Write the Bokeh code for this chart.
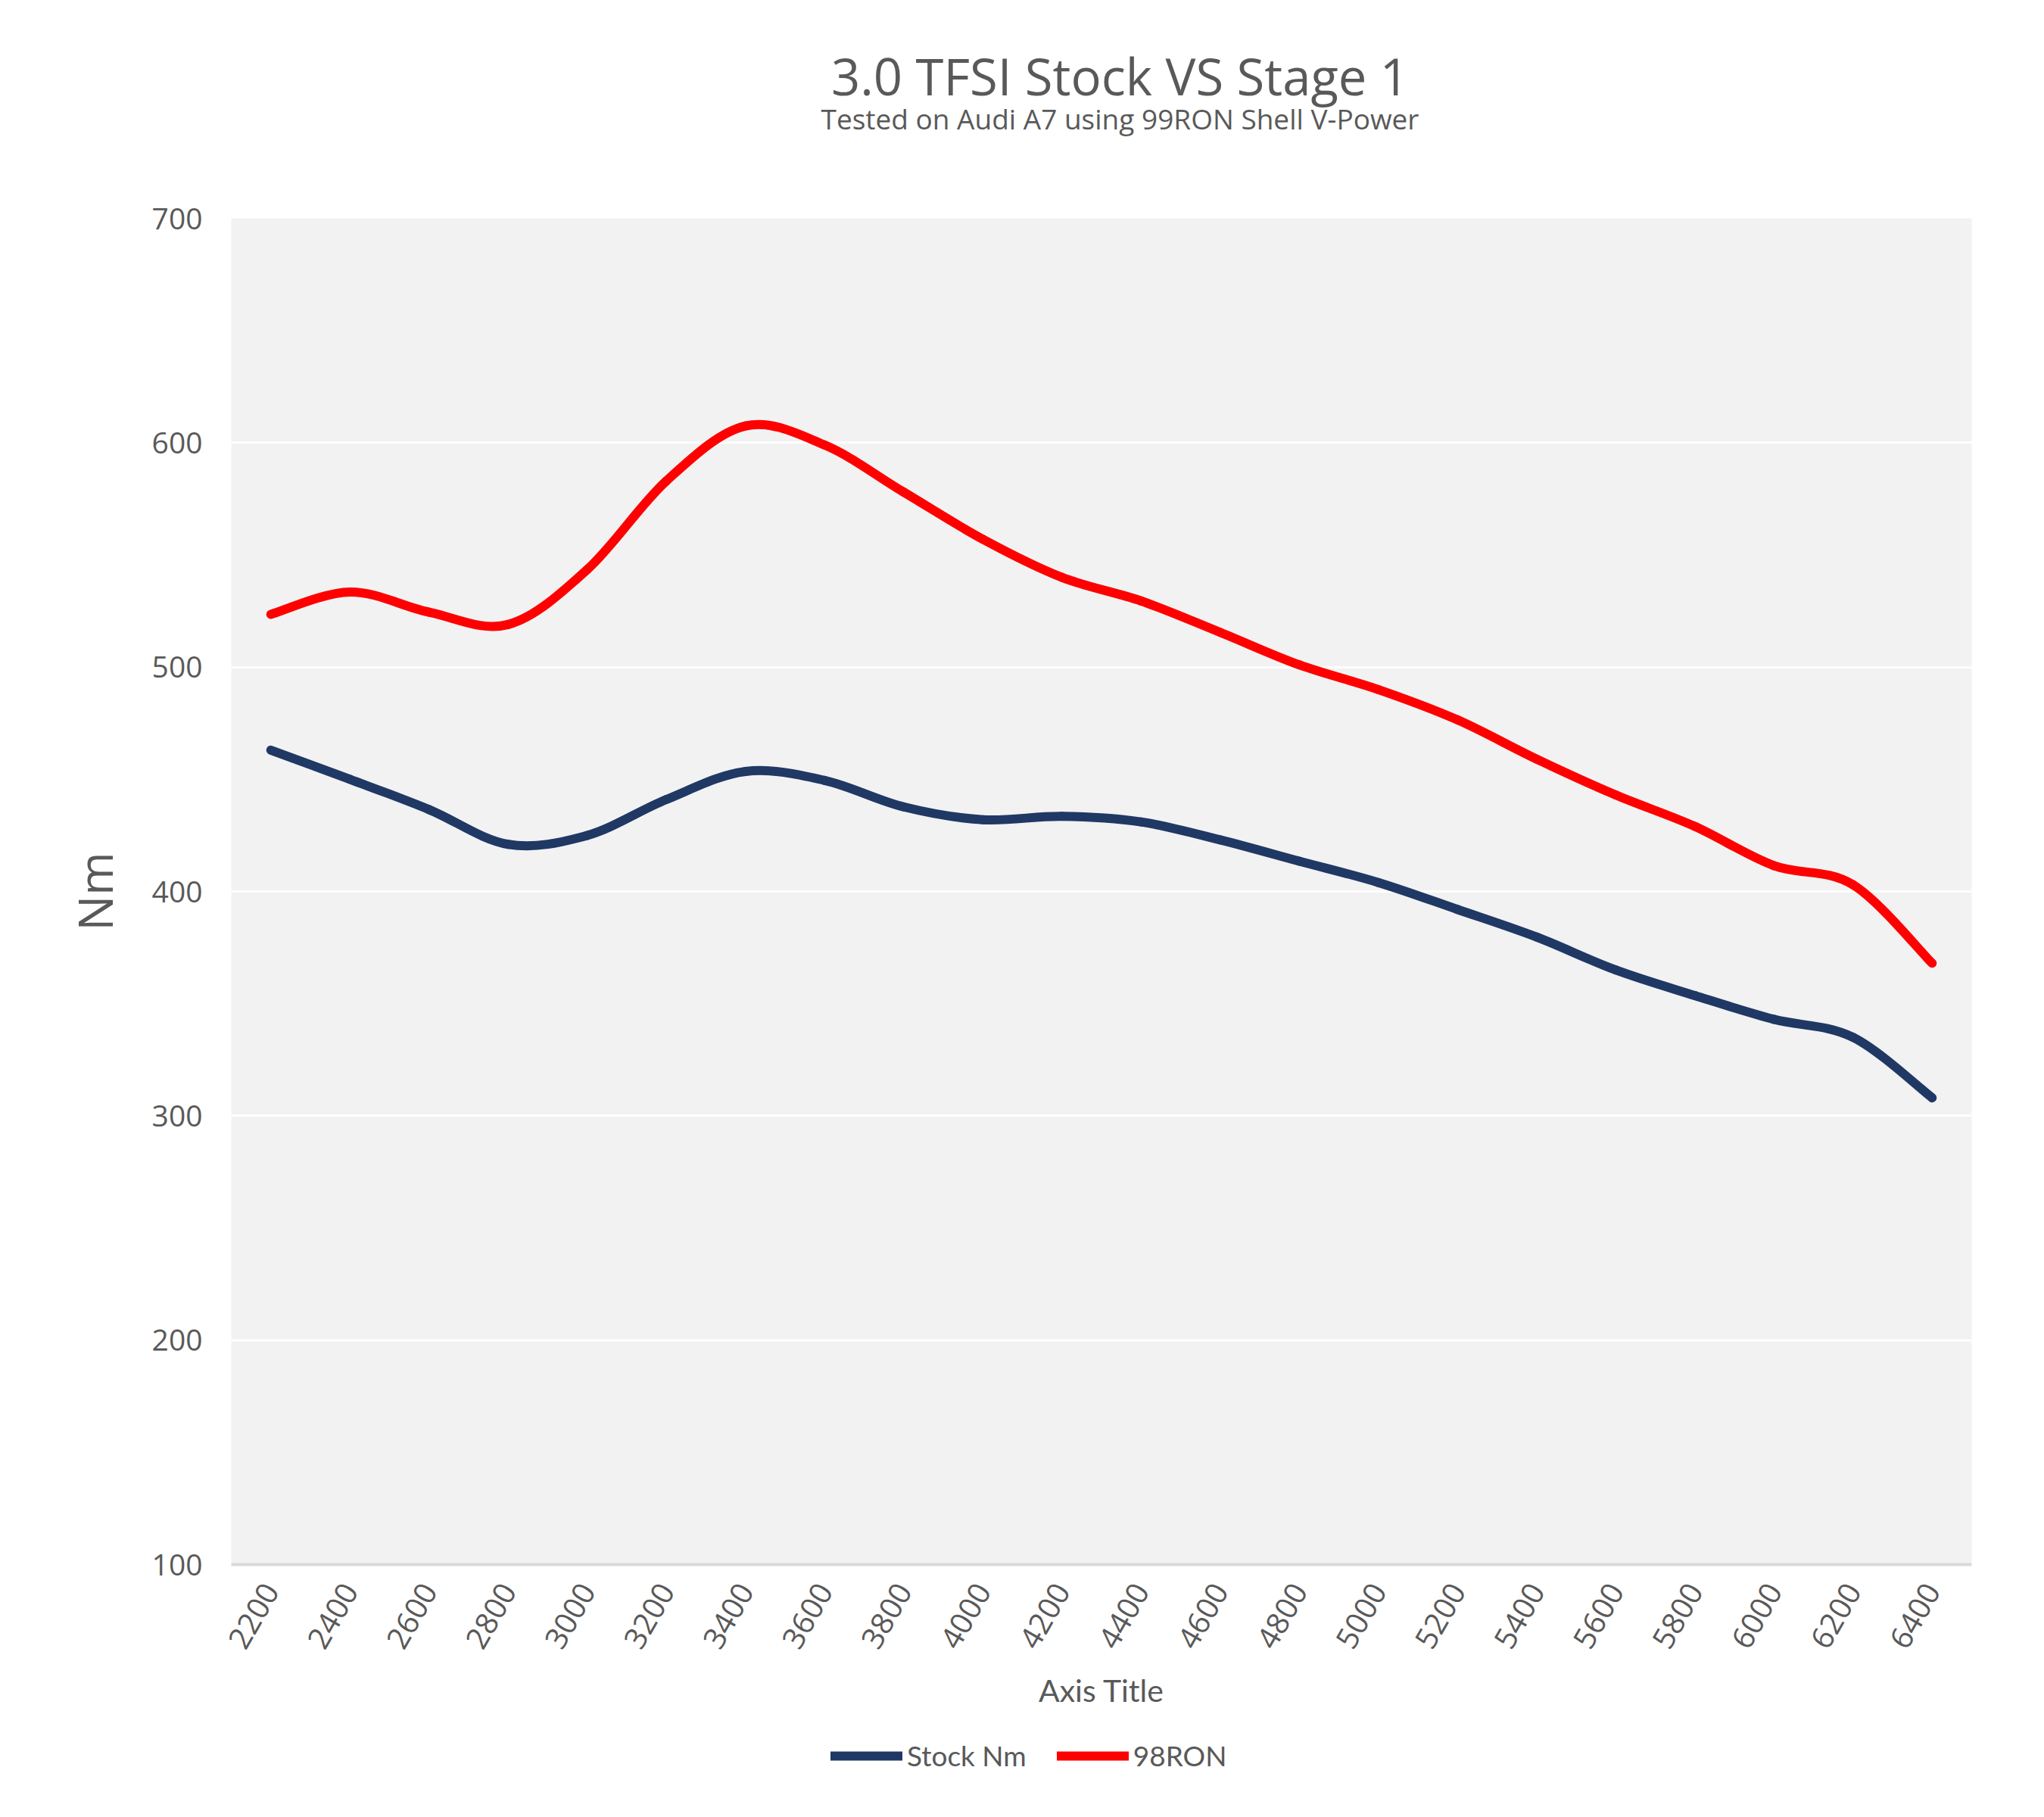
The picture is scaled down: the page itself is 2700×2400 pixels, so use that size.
import numpy as np
from bokeh.plotting import figure
from bokeh.layouts import column
from bokeh.models import Range1d, FixedTicker, Label, Legend, LegendItem
from bokeh.embed import file_html
from bokeh.resources import INLINE

# ---- data ----
rpm = [2200, 2400, 2600, 2800, 3000, 3200, 3400, 3600, 3800, 4000, 4200,
       4400, 4600, 4800, 5000, 5200, 5400, 5600, 5800, 6000, 6200, 6400]
stock_nm = [463, 450, 436.5, 421, 425, 441, 453.5, 449.5, 437.7, 432, 433.5,
            431, 423, 413.5, 404, 392, 379.7, 365, 353.6, 343, 335, 308]
ron98_nm = [523.5, 533.5, 524.5, 519, 543.5, 583, 607.5, 599, 578, 557, 540,
            529.5, 515.5, 501, 490, 476.5, 459, 443, 429, 411.5, 403, 368]
y_ticks = [100, 200, 300, 400, 500, 600, 700]

title_text = "3.0 TFSI Stock VS Stage 1"
subtitle_text = "Tested on Audi A7 using 99RON Shell V-Power"
x_title = "Axis Title"
y_title = "Nm"
series_names = ["Stock Nm", "98RON"]
series_colors = ["#203864", "#FF0000"]

GREY = "#595959"
W = 2684
BORDER_L, BORDER_R = 305, 80
TOP_H, MAIN_H, LEG_H = 258, 2028, 98


def bare_figure(h):
    # frame gets aligned with the main chart's frame by the column layout,
    # so the x range is expressed in page pixels of that frame
    f = figure(width=W, height=h, output_backend="svg", toolbar_location=None,
               x_axis_type=None, y_axis_type=None,
               x_range=Range1d(BORDER_L, W - BORDER_R), y_range=Range1d(0, h),
               min_border=0, title=None)
    f.outline_line_color = None
    f.background_fill_color = "white"
    f.border_fill_color = "white"
    return f


# ---------- title block ----------
top = bare_figure(TOP_H)
top.add_layout(Label(x=1479, y=TOP_H - 99, text=title_text, text_align="center",
                     text_baseline="middle", text_font="Open Sans",
                     text_font_size="67px", text_color=GREY))
top.add_layout(Label(x=1479, y=TOP_H - 156, text=subtitle_text, text_align="center",
                     text_baseline="middle", text_font="Open Sans",
                     text_font_size="37px", text_color=GREY))

# ---------- main chart ----------
x_lo = rpm[0] - (rpm[1] - rpm[0]) / 2
x_hi = rpm[-1] + (rpm[1] - rpm[0]) / 2

p = figure(width=W, height=MAIN_H, output_backend="svg", toolbar_location=None,
           x_range=Range1d(x_lo, x_hi), y_range=Range1d(y_ticks[0], y_ticks[-1]),
           title=None, min_border_left=BORDER_L, min_border_right=BORDER_R,
           min_border_top=30, min_border_bottom=220)
p.background_fill_color = "#F2F2F2"
p.border_fill_color = "white"
p.outline_line_color = None

p.xgrid.visible = False
p.ygrid.grid_line_color = "white"
p.ygrid.grid_line_width = 3
p.ygrid.ticker = FixedTicker(ticks=y_ticks)

p.yaxis.ticker = FixedTicker(ticks=y_ticks)
p.yaxis.axis_line_color = None
p.yaxis.major_tick_line_color = None
p.yaxis.minor_tick_line_color = None
p.yaxis.major_label_text_font = "Open Sans"
p.yaxis.major_label_text_font_size = "39px"
p.yaxis.major_label_text_color = GREY
p.yaxis.major_label_standoff = 32
p.yaxis.axis_label = y_title
p.yaxis.axis_label_text_font = "Open Sans"
p.yaxis.axis_label_text_font_size = "62px"
p.yaxis.axis_label_text_font_style = "normal"
p.yaxis.axis_label_text_color = GREY
p.yaxis.axis_label_standoff = 31

p.xaxis.ticker = FixedTicker(ticks=rpm)
p.xaxis.axis_line_color = "#D9D9D9"
p.xaxis.axis_line_width = 4
p.xaxis.major_tick_line_color = None
p.xaxis.minor_tick_line_color = None
p.xaxis.major_label_orientation = np.pi / 3
p.xaxis.major_label_text_font = "Open Sans"
p.xaxis.major_label_text_font_size = "40px"
p.xaxis.major_label_text_color = GREY
p.xaxis.major_label_standoff = 22
p.xaxis.axis_label = x_title
p.xaxis.axis_label_text_font = "Lato"
p.xaxis.axis_label_text_font_size = "41px"
p.xaxis.axis_label_text_font_style = "normal"
p.xaxis.axis_label_text_color = GREY
p.xaxis.axis_label_standoff = 17


def smooth_segments(xs, ys):
    """Bezier control points (Catmull-Rom, like a spreadsheet smoothed line)."""
    xs = np.asarray(xs, float)
    ys = np.asarray(ys, float)
    n = len(xs)
    x0, y0, x1, y1, cx0, cy0, cx1, cy1 = [], [], [], [], [], [], [], []
    for i in range(n - 1):
        im = max(i - 1, 0)
        ip = min(i + 2, n - 1)
        x0.append(xs[i]); y0.append(ys[i])
        x1.append(xs[i + 1]); y1.append(ys[i + 1])
        cx0.append(xs[i] + (xs[i + 1] - xs[im]) / 6)
        cy0.append(ys[i] + (ys[i + 1] - ys[im]) / 6)
        cx1.append(xs[i + 1] - (xs[ip] - xs[i]) / 6)
        cy1.append(ys[i + 1] - (ys[ip] - ys[i]) / 6)
    return dict(x0=x0, y0=y0, x1=x1, y1=y1, cx0=cx0, cy0=cy0, cx1=cx1, cy1=cy1)


for col, vals in zip(series_colors, [stock_nm, ron98_nm]):
    seg = smooth_segments(rpm, vals)
    p.bezier(line_color=col, line_width=12, line_cap="round", **seg)

# ---------- legend block ----------
leg = bare_figure(LEG_H)
items = []
for name, col in zip(series_names, series_colors):
    # placeholder renderer (no drawable point) that only supplies the legend swatch
    r = leg.line(x=np.array([np.nan]), y=np.array([np.nan]),
                 line_color=col, line_width=12, line_cap="round")
    items.append(LegendItem(label=name, renderers=[r]))
legend = Legend(items=items, orientation="horizontal", location=(1097 - BORDER_L, 43),
                background_fill_alpha=0, border_line_alpha=0,
                glyph_width=95, glyph_height=14, label_standoff=6, spacing=40,
                label_text_font="Lato", label_text_font_size="37px",
                label_text_color=GREY, padding=0, margin=0)
leg.add_layout(legend, "center")

layout = column(top, p, leg, spacing=0)
open("out.html", "w").write(file_html(layout, INLINE))
